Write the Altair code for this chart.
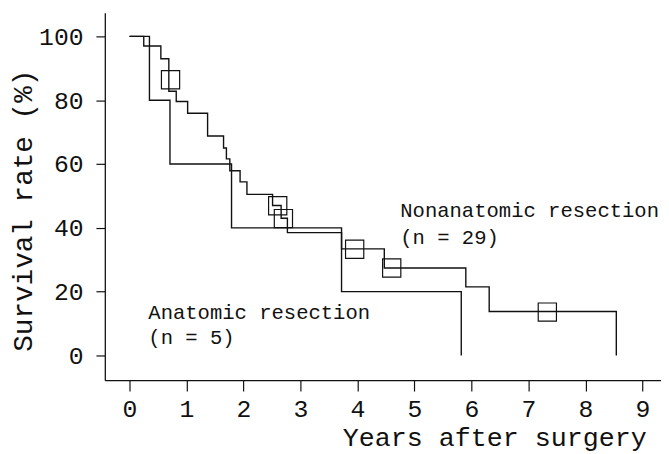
import altair as alt
import pandas as pd

# Kaplan-Meier curves
non_t = [0, 0.25, 0.55, 0.69, 0.82, 1.02, 1.37, 1.65, 1.70, 1.76, 1.94, 2.06, 2.51, 2.66, 2.77, 3.72, 4.47, 5.90, 6.31, 8.54]
non_s = [100, 97.0, 93.0, 82.8, 79.6, 75.9, 68.8, 65.0, 61.6, 57.9, 54.4, 50.5, 47.0, 43.0, 38.5, 33.4, 27.4, 21.5, 13.8, 0]
ana_t = [0, 0.35, 0.71, 1.79, 3.72, 5.82]
ana_s = [100, 80, 60, 40, 20, 0]

# censor marks (hollow squares)
cens_t = [0.72, 2.60, 2.70, 3.95, 4.60, 7.33]
cens_s = [86.4, 46.9, 42.9, 33.3, 27.4, 13.6]

# annotation labels
label_text = ["Nonanatomic resection", "(n = 29)", "Anatomic resection", "(n = 5)"]
label_t = [4.75, 4.75, 0.33, 0.33]
label_s = [43.4, 35.0, 11.5, 3.7]

x_ticks = [0, 1, 2, 3, 4, 5, 6, 7, 8, 9]
y_ticks = [0, 20, 40, 60, 80, 100]

FONT = "Liberation Mono"
INK = "#111111"

curves = pd.DataFrame(
    {"t": non_t + ana_t, "s": non_s + ana_s,
     "group": ["Nonanatomic"] * len(non_t) + ["Anatomic"] * len(ana_t)}
)
cens = pd.DataFrame({"t": cens_t, "s": cens_s})
labels = pd.DataFrame({"t": label_t, "s": label_s, "text": label_text})

xscale = alt.Scale(domain=[-0.433, 9.324], nice=False, zero=False)
yscale = alt.Scale(domain=[-7.74, 107.43], nice=False, zero=False)

xaxis = alt.Axis(
    values=x_ticks, format="d", title="Years after surgery", grid=False,
    tickSize=11, labelPadding=6, labelFontSize=25, labelFont=FONT,
    labelColor=INK, titleFont=FONT, titleFontSize=27, titleFontWeight="normal",
    titleColor=INK, titleAlign="right", titleAnchor="end", titleX=548, titleY=66,
    titleBaseline="alphabetic", domainColor=INK, tickColor=INK,
    domainWidth=1.3, tickWidth=1.2, labelFlush=False,
)
yaxis = alt.Axis(
    values=y_ticks, format="d", title="Survival rate (%)", grid=False,
    tickSize=9, labelPadding=13, labelFontSize=25, labelFont=FONT,
    labelColor=INK, titleFont=FONT, titleFontSize=28, titleFontWeight="normal",
    titleColor=INK, titleAngle=270, titleAlign="center", titleBaseline="middle",
    titleX=-82, titleY=200, domainColor=INK, tickColor=INK,
    domainWidth=1.3, tickWidth=1.2, labelFlush=False,
)

lines = alt.Chart(curves).mark_line(
    interpolate="step-after", color=INK, strokeWidth=1.4
).encode(
    x=alt.X("t:Q", scale=xscale, axis=xaxis),
    y=alt.Y("s:Q", scale=yscale, axis=yaxis),
    detail="group:N",
)

boxes = alt.Chart(cens).mark_square(
    filled=False, size=340, color=INK, strokeWidth=1.2, opacity=1
).encode(x=alt.X("t:Q", scale=xscale), y=alt.Y("s:Q", scale=yscale))

texts = alt.Chart(labels).mark_text(
    align="left", baseline="alphabetic", font=FONT, fontSize=20.8, color=INK
).encode(x=alt.X("t:Q", scale=xscale), y=alt.Y("s:Q", scale=yscale), text="text:N")

chart = (
    alt.layer(lines, boxes, texts)
    .properties(
        width=563, height=372,
        autosize=alt.AutoSizeParams(type="none"),
        padding={"left": 98, "top": 2, "right": 0, "bottom": 72},
        background="white",
    )
    .configure_view(stroke=None)
)

chart.save("out.html", embed_options={"renderer": "svg", "actions": False})
